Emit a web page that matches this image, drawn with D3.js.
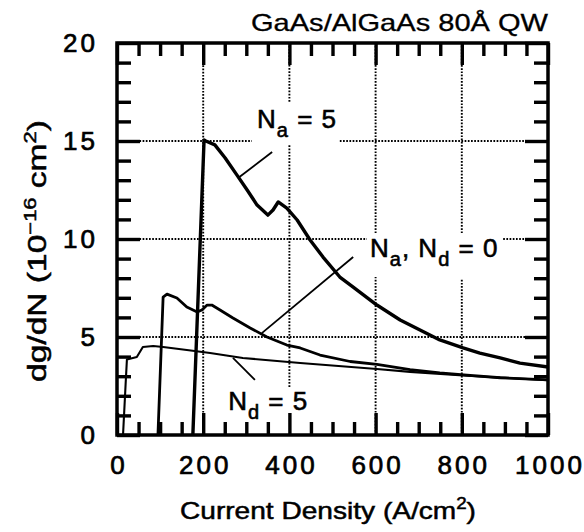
<!DOCTYPE html>
<html><head><meta charset="utf-8">
<script src="https://cdn.jsdelivr.net/npm/d3@7"></script>
<style>body{margin:0;background:#fff}svg text{font-family:"Liberation Sans",Arial,Helvetica,sans-serif;fill:#000}</style>
</head><body><svg id="c" width="584" height="532"></svg>
<script>
// ---- data ----
const naJ = [176, 202, 206, 227, 251, 278, 302, 325, 350, 362, 374, 394, 418, 448, 478, 517, 548, 603, 657, 703, 749, 803, 842, 889, 935, 1000];
const naG = [0, 15.05, 15.0, 14.8, 14.13, 13.27, 12.5, 11.73, 11.22, 11.48, 11.89, 11.58, 10.97, 9.95, 9.08, 8.06, 7.55, 6.63, 5.87, 5.36, 4.85, 4.44, 4.18, 3.93, 3.67, 3.47];

const zeroJ = [95, 107, 116, 139, 162, 186, 197, 209, 220, 239, 269, 309, 348, 394, 425, 471, 541, 603, 680, 749, 812, 889, 1000];
const zeroG = [0, 7.04, 7.19, 6.99, 6.53, 6.28, 6.38, 6.63, 6.63, 6.38, 5.97, 5.46, 5.0, 4.59, 4.44, 4.08, 3.75, 3.6, 3.34, 3.17, 3.06, 2.92, 2.81];

const ndJ = [14, 20, 23, 46, 60, 84, 107, 162, 216, 292, 425, 603, 680, 812, 1000];
const ndG = [0, 2.6, 3.85, 3.98, 4.49, 4.54, 4.49, 4.34, 4.18, 3.93, 3.67, 3.37, 3.22, 3.02, 2.8];

const xMajorTicks = [0, 200, 400, 600, 800, 1000];
const xMinorTicks = [50, 100, 150, 250, 300, 350, 450, 500, 550, 650, 700, 750, 850, 900, 950];
const yMajorTicks = [0, 5, 10, 15, 20];
const yMinorTicks = [1, 2, 3, 4, 6, 7, 8, 9, 11, 12, 13, 14, 16, 17, 18, 19];

const titleText = "GaAs/AlGaAs 80Å QW";
const xTitle = ["Current Density (A/cm", "2", ")"];
const yTitle = ["dg/dN (10", "−16", " cm", "2", ")"];

// grid segments [value, from, to] in data units (gaps around labels)
const gridH = [[5, 0, 1000], [10, 0, 580], [10, 896, 1000], [15, 0, 313], [15, 517, 1000]];
const gridV = [[200, 0, 20], [400, 17, 20], [400, 2.45, 14.8], [600, 10.3, 20], [600, 0, 8.06], [800, 10.3, 20], [800, 0, 8.0]];

// annotation labels and pointer lines (data units)
const labels = [
  [["N", "a", " = 5"], 325, 15.66],
  [["N", "a", ", N", "d", " = 0"], 587, 9.08],
  [["N", "d", " = 5"], 258, 1.28]
];
const pointers = [[360, 14.44, 281, 13.11], [548, 9.08, 336, 5.2], [269, 3.93, 320, 2.81]];

// ---- drawing ----
const svg = d3.select('#c');
const x = d3.scaleLinear().domain([0, 1000]).range([117, 548]);
const y = d3.scaleLinear().domain([0, 20]).range([435, 43]);
const H = 435, T = 43, L = 117, R = 548;

// grid
const g = svg.append('g').attr('stroke', '#000').attr('stroke-width', 1.9).attr('stroke-dasharray', '1.7,1.5');
gridH.forEach(d => g.append('line').attr('x1', x(d[1])).attr('x2', x(d[2])).attr('y1', y(d[0])).attr('y2', y(d[0])));
gridV.forEach(d => g.append('line').attr('x1', x(d[0])).attr('x2', x(d[0])).attr('y1', y(d[1])).attr('y2', y(d[2])));

// curves
const line = d3.line().x(d => x(d[0])).y(d => y(d[1]));
const series = [[naJ, naG, 3.4], [zeroJ, zeroG, 2.8], [ndJ, ndG, 2.1]];
series.forEach(([J, G, w]) => {
  svg.append('path').datum(J.map((v, i) => [v, G[i]])).attr('d', line)
    .attr('fill', 'none').attr('stroke', '#000').attr('stroke-width', w).attr('stroke-linejoin', 'round');
});

// pointers
pointers.forEach(p => svg.append('line').attr('x1', x(p[0])).attr('y1', y(p[1])).attr('x2', x(p[2])).attr('y2', y(p[3]))
  .attr('stroke', '#000').attr('stroke-width', 1.8));

// frame
svg.append('rect').attr('x', L).attr('y', T).attr('width', R - L).attr('height', H - T)
  .attr('fill', 'none').attr('stroke', '#000').attr('stroke-width', 3.5);

// axes: inward ticks via d3 axis generators
function tickStyle(sel) {
  sel.select('.domain').remove();
  sel.selectAll('.tick line').attr('stroke', '#000').attr('stroke-width', 3.4).attr('stroke-opacity', 1);
  sel.selectAll('.tick').attr('opacity', 1);
}
function noLabels(sel) { sel.selectAll('.tick text').remove(); }
const axes = [
  [d3.axisBottom(x).tickValues(xMinorTicks).tickSizeInner(-13).tickSizeOuter(0), `translate(0,${H})`],
  [d3.axisBottom(x).tickValues(xMajorTicks).tickSizeInner(-22).tickSizeOuter(0), `translate(0,${H})`],
  [d3.axisTop(x).tickValues(xMinorTicks).tickSizeInner(-13).tickSizeOuter(0), `translate(0,${T})`],
  [d3.axisTop(x).tickValues(xMajorTicks).tickSizeInner(-22).tickSizeOuter(0), `translate(0,${T})`],
  [d3.axisLeft(y).tickValues(yMinorTicks).tickSizeInner(-14).tickSizeOuter(0), `translate(${L},0)`],
  [d3.axisLeft(y).tickValues(yMajorTicks).tickSizeInner(-23).tickSizeOuter(0), `translate(${L},0)`],
  [d3.axisRight(y).tickValues(yMinorTicks).tickSizeInner(-14).tickSizeOuter(0), `translate(${R},0)`],
  [d3.axisRight(y).tickValues(yMajorTicks).tickSizeInner(-23).tickSizeOuter(0), `translate(${R},0)`]
];
axes.forEach(([ax, tr]) => svg.append('g').attr('transform', tr).call(ax).call(tickStyle).call(noLabels));

// tick labels
function labelStyle(sel) {
  sel.select('.domain').remove();
  sel.selectAll('.tick line').remove();
  sel.selectAll('.tick text').attr('font-size', 26).attr('letter-spacing', 3).attr('fill', '#000')
     .attr('stroke', '#000').attr('stroke-width', 0.7).style('font-family', '"Liberation Sans",Arial,sans-serif');
}
svg.append('g').attr('transform', `translate(0,${H})`)
  .call(d3.axisBottom(x).tickValues(xMajorTicks).tickSize(0).tickPadding(21).tickFormat(d3.format('d'))).call(labelStyle)
  .selectAll('.tick text').attr('dx', 1.5);
svg.append('g').attr('transform', `translate(${L},0)`)
  .call(d3.axisLeft(y).tickValues(yMajorTicks).tickSize(0).tickPadding(19).tickFormat(d3.format('d'))).call(labelStyle);

// labels
labels.forEach(([parts, J, gv]) => {
  const t = svg.append('text').attr('x', x(J)).attr('y', y(gv)).attr('font-size', 26).attr('letter-spacing', 1)
    .attr('stroke', '#000').attr('stroke-width', 0.6);
  parts.forEach((s, i) => {
    const sub = i % 2 === 1;
    t.append('tspan').text(s).attr('font-size', sub ? 20 : 26).attr('dy', sub ? 9 : (i > 0 ? -9 : 0));
  });
});

// title
svg.append('text').attr('x', 548).attr('y', 31).attr('text-anchor', 'end').attr('font-size', 24)
  .attr('textLength', 297).attr('lengthAdjust', 'spacingAndGlyphs')
  .attr('stroke', '#000').attr('stroke-width', 0.3).text(titleText);

// x title
const xtt = svg.append('text').attr('x', 180).attr('y', 519).attr('font-size', 24)
  .attr('textLength', 296).attr('lengthAdjust', 'spacingAndGlyphs')
  .attr('stroke', '#000').attr('stroke-width', 0.5);
xtt.append('tspan').text(xTitle[0]);
xtt.append('tspan').text(xTitle[1]).attr('font-size', 16).attr('dy', -10);
xtt.append('tspan').text(xTitle[2]).attr('dy', 10);

// y title
const ytt = svg.append('text').attr('transform', 'translate(46,382) rotate(-90)')
  .attr('font-size', 26).attr('textLength', 262).attr('lengthAdjust', 'spacingAndGlyphs')
  .attr('stroke', '#000').attr('stroke-width', 0.5);
ytt.append('tspan').text(yTitle[0]);
ytt.append('tspan').text(yTitle[1]).attr('font-size', 17).attr('dy', -10);
ytt.append('tspan').text(yTitle[2]).attr('dy', 10);
ytt.append('tspan').text(yTitle[3]).attr('font-size', 17).attr('dy', -10);
ytt.append('tspan').text(yTitle[4]).attr('dy', 10);
</script></body></html>
